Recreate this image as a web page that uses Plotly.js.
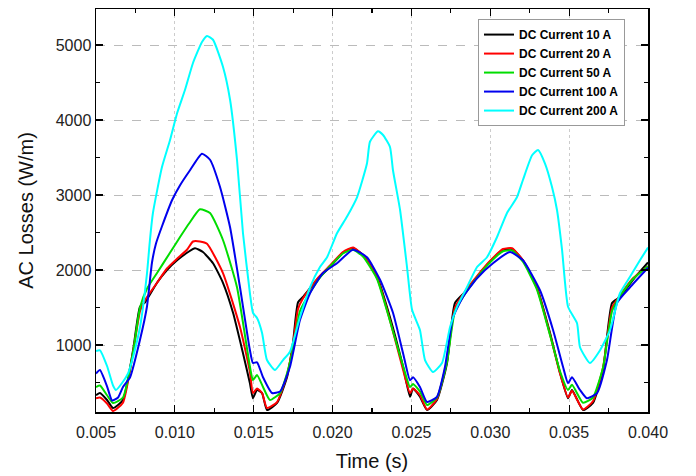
<!DOCTYPE html>
<html>
<head>
<meta charset="utf-8">
<script src="https://cdn.plot.ly/plotly-3.0.1.min.js"></script>
<style>html,body{margin:0;padding:0;background:#fff;}#chart{width:696px;height:476px;}</style>
</head>
<body>
<div id="chart"></div>
<script>
// Series names
const seriesNames = ["DC Current 10 A", "DC Current 20 A", "DC Current 50 A", "DC Current 100 A", "DC Current 200 A"];
const seriesColors = ["#000000", "#ff0000", "#00dd00", "#0000ee", "#00ffff"];

// 10 A
const t10 = [0.00500,0.00525,0.00570,0.00608,0.00671,0.00735,0.00779,0.00811,0.00887,0.00950,0.01014,0.01077,0.01128,0.01178,0.01242,0.01305,0.01369,0.01432,0.01476,0.01495,0.01521,0.01553,0.01584,0.01648,0.01711,0.01749,0.01781,0.01812,0.01901,0.01984,0.02066,0.02130,0.02193,0.02282,0.02364,0.02447,0.02491,0.02510,0.02554,0.02599,0.02662,0.02726,0.02776,0.02852,0.02916,0.02998,0.03081,0.03138,0.03207,0.03296,0.03379,0.03442,0.03493,0.03518,0.03588,0.03651,0.03715,0.03772,0.03822,0.03905,0.04000];
const y10 = [330,360,267,160,267,930,1510,1570,1830,2000,2130,2230,2290,2240,2090,1830,1430,890,490,290,400,360,133,227,570,1030,1570,1640,1870,2040,2230,2290,2200,1910,1370,710,310,420,310,133,267,760,1560,1730,1910,2110,2270,2280,2130,1770,1160,630,290,400,133,227,667,1560,1640,1870,2100];

// 20 A
const t20 = [0.00500,0.00525,0.00570,0.00608,0.00671,0.00735,0.00779,0.00811,0.00887,0.00950,0.01014,0.01077,0.01115,0.01159,0.01204,0.01305,0.01413,0.01476,0.01495,0.01521,0.01553,0.01584,0.01648,0.01711,0.01749,0.01781,0.01812,0.01901,0.01984,0.02066,0.02130,0.02193,0.02282,0.02364,0.02447,0.02491,0.02510,0.02554,0.02599,0.02662,0.02726,0.02776,0.02852,0.02916,0.02998,0.03081,0.03138,0.03207,0.03296,0.03379,0.03442,0.03493,0.03518,0.03588,0.03651,0.03715,0.03772,0.03822,0.03905,0.04000];
const y20 = [290,300,220,120,230,900,1450,1600,1830,2020,2150,2270,2380,2380,2350,1960,1240,640,360,420,360,160,240,600,1000,1480,1620,1880,2060,2240,2300,2200,1900,1330,670,360,420,330,140,280,800,1500,1750,1920,2120,2280,2290,2130,1760,1140,620,300,390,140,250,700,1500,1660,1890,2050];

// 50 A
const t50 = [0.00500,0.00525,0.00570,0.00608,0.00671,0.00735,0.00779,0.00823,0.00887,0.00969,0.01033,0.01090,0.01159,0.01223,0.01305,0.01394,0.01476,0.01495,0.01521,0.01559,0.01603,0.01667,0.01711,0.01749,0.01793,0.01857,0.01920,0.01984,0.02066,0.02130,0.02193,0.02282,0.02364,0.02447,0.02491,0.02510,0.02554,0.02599,0.02662,0.02726,0.02776,0.02852,0.02916,0.02998,0.03081,0.03138,0.03207,0.03296,0.03379,0.03442,0.03493,0.03518,0.03588,0.03651,0.03715,0.03772,0.03822,0.03905,0.04000];
const y50 = [440,460,330,227,300,900,1500,1750,1960,2230,2440,2620,2810,2760,2400,1770,710,530,600,440,267,360,620,950,1450,1700,1900,2050,2220,2270,2180,1880,1320,720,440,480,380,200,300,780,1450,1720,1900,2100,2250,2260,2110,1740,1130,650,400,470,230,300,700,1450,1650,1880,2050];

// 100 A
const t100 = [0.00500,0.00525,0.00570,0.00602,0.00640,0.00671,0.00716,0.00779,0.00823,0.00855,0.00880,0.00918,0.00982,0.01033,0.01096,0.01172,0.01223,0.01286,0.01350,0.01413,0.01476,0.01495,0.01521,0.01559,0.01616,0.01667,0.01730,0.01793,0.01857,0.01939,0.02028,0.02130,0.02218,0.02301,0.02383,0.02447,0.02491,0.02510,0.02554,0.02599,0.02662,0.02713,0.02764,0.02827,0.02916,0.03017,0.03125,0.03207,0.03315,0.03398,0.03461,0.03493,0.03518,0.03569,0.03613,0.03677,0.03740,0.03803,0.03886,0.04000];
const y100 = [620,667,450,260,300,440,570,1070,1510,2100,2350,2580,2930,3130,3330,3550,3470,3110,2570,1770,930,760,770,570,360,380,710,1330,1690,1960,2090,2270,2170,1870,1430,890,530,570,440,240,310,710,1370,1640,1890,2090,2240,2130,1730,1200,710,490,570,400,290,360,800,1560,1770,2030];

// 200 A
const t200 = [0.00500,0.00525,0.00570,0.00608,0.00627,0.00671,0.00703,0.00735,0.00779,0.00823,0.00842,0.00861,0.00918,0.00969,0.01014,0.01064,0.01115,0.01172,0.01204,0.01242,0.01305,0.01350,0.01394,0.01432,0.01476,0.01495,0.01521,0.01553,0.01584,0.01635,0.01686,0.01730,0.01793,0.01857,0.01920,0.01965,0.02028,0.02091,0.02155,0.02218,0.02237,0.02288,0.02320,0.02364,0.02383,0.02428,0.02472,0.02504,0.02554,0.02586,0.02637,0.02694,0.02745,0.02789,0.02852,0.02916,0.02979,0.03043,0.03106,0.03169,0.03207,0.03265,0.03303,0.03347,0.03391,0.03423,0.03455,0.03493,0.03550,0.03569,0.03632,0.03696,0.03759,0.03822,0.03886,0.03949,0.04000];
const y200 = [920,930,720,460,400,510,620,840,1240,1950,2400,2760,3370,3730,4090,4400,4760,5040,5120,5070,4710,4270,3470,2490,1690,1430,1360,1160,800,667,800,910,1370,1770,2040,2170,2490,2710,2970,3420,3710,3850,3800,3640,3330,2800,2040,1470,1200,800,640,760,1240,1510,1770,2040,2170,2440,2760,2970,3200,3530,3600,3420,3110,2800,2270,1510,1290,970,760,930,1200,1690,1910,2130,2300];

const xTickVals = [0.005,0.010,0.015,0.020,0.025,0.030,0.035,0.040];
const xTickText = ["0.005","0.010","0.015","0.020","0.025","0.030","0.035","0.040"];
const yTickVals = [1000,2000,3000,4000,5000];

const xs = [t10, t20, t50, t100, t200];
const ys = [y10, y20, y50, y100, y200];

const traces = xs.map((x, i) => ({
  x: x, y: ys[i], type: 'scatter', mode: 'lines', name: seriesNames[i],
  line: {color: seriesColors[i], width: 2, shape: 'spline', smoothing: 0.5}
}));

const fam = 'Liberation Sans, Arial, sans-serif';
const layout = {
  width: 696, height: 476,
  margin: {l: 96, r: 48, t: 9, b: 64},
  paper_bgcolor: '#fff', plot_bgcolor: '#fff',
  showlegend: true,
  legend: {
    x: 0.692, y: 0.975, xanchor: 'left', yanchor: 'top',
    bgcolor: '#fff', bordercolor: '#999', borderwidth: 1,
    font: {family: fam, size: 12, weight: 'bold', color: '#000'},
    tracegroupgap: 0
  },
  xaxis: {
    range: [0.005, 0.040], tickmode: 'array', tickvals: xTickVals, ticktext: xTickText,
    ticks: 'inside', ticklen: 7, tickwidth: 1.2, tickcolor: '#000',
    showline: true, linecolor: '#000', linewidth: 1.5, mirror: 'ticks',
    showgrid: true, gridcolor: '#cccccc', griddash: 'dot', gridwidth: 1,
    zeroline: false, ticklabelstandoff: 5,
    tickfont: {family: fam, size: 16, color: '#222'},
    minor: {dtick: 0.0025, tick0: 0.005, ticks: 'inside', ticklen: 4, tickcolor: '#000', showgrid: false},
    title: {text: 'Time (s)', font: {family: fam, size: 20, color: '#111'}, standoff: 14}
  },
  yaxis: {
    range: [107, 5480], tickmode: 'array', tickvals: yTickVals,
    ticks: 'inside', ticklen: 7, tickwidth: 1.2, tickcolor: '#000',
    showline: true, linecolor: '#000', linewidth: 1.5, mirror: 'ticks',
    showgrid: true, gridcolor: '#bbbbbb', griddash: 'dash', gridwidth: 1,
    zeroline: false,
    tickfont: {family: fam, size: 16, color: '#222'},
    minor: {dtick: 500, tick0: 0, ticks: 'inside', ticklen: 4, tickcolor: '#000', showgrid: false},
    title: {text: 'AC Losses (W/m)', font: {family: fam, size: 20, color: '#111'}, standoff: 16}
  }
};

Plotly.newPlot('chart', traces, layout, {displayModeBar: false, staticPlot: true});
</script>
</body>
</html>
